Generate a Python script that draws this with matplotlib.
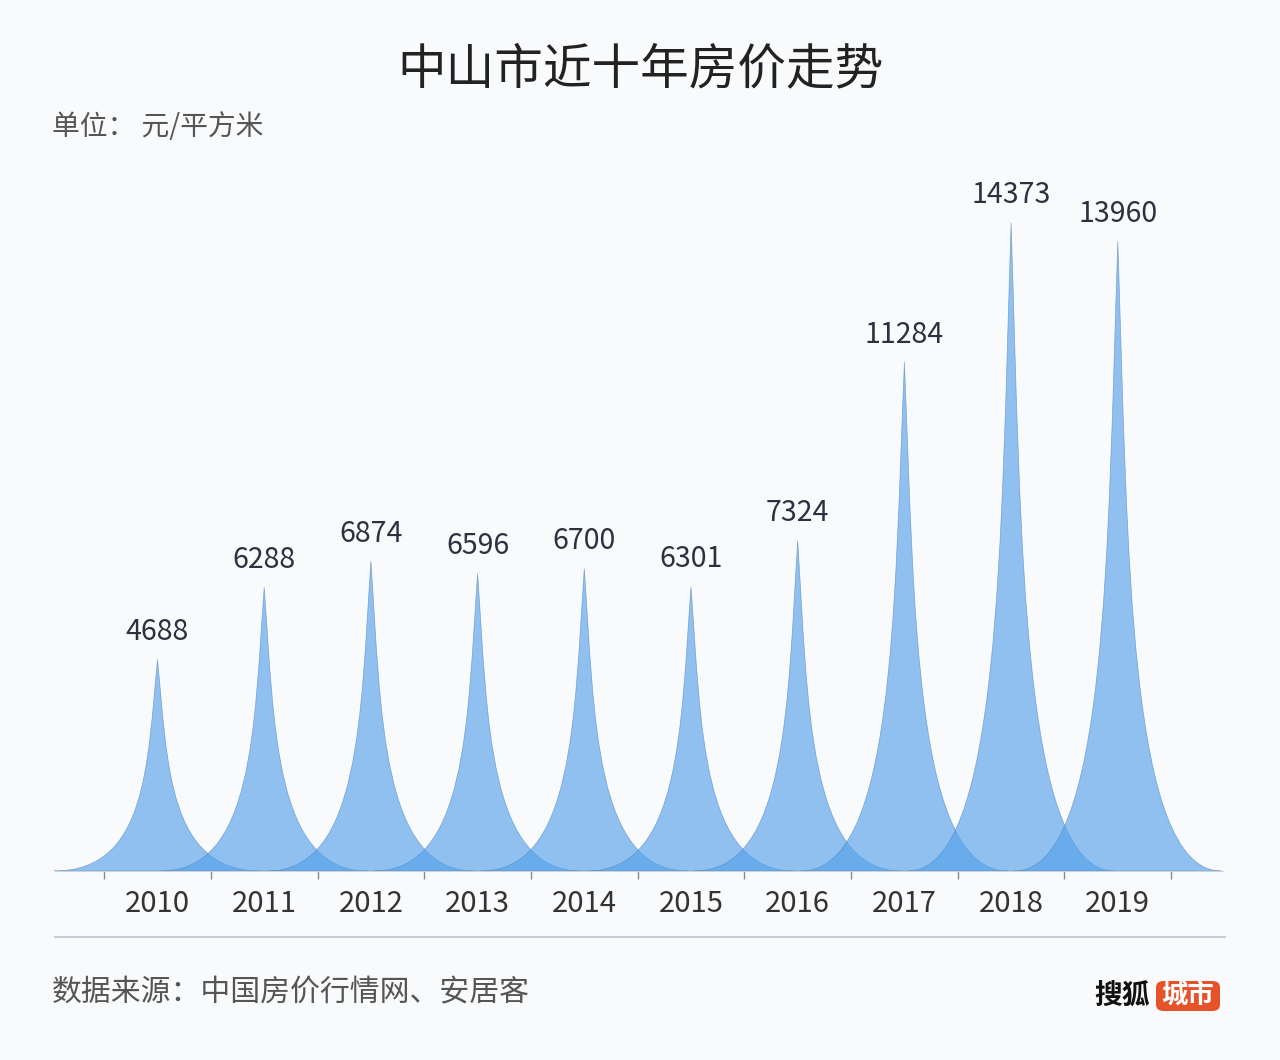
import numpy as np
import matplotlib.pyplot as plt
from matplotlib.path import Path
from matplotlib.patches import PathPatch, FancyBboxPatch

plt.rcParams['font.family'] = ['Noto Sans CJK SC', 'DejaVu Sans']

years = ['2010', '2011', '2012', '2013', '2014', '2015', '2016', '2017', '2018', '2019']
prices = [4688, 6288, 6874, 6596, 6700, 6301, 7324, 11284, 14373, 13960]

bg = '#f9fafc'
W, H = 1280, 1060
fig = plt.figure(figsize=(W / 100, H / 100), dpi=100, facecolor=bg)

# axes placed in pixels: baseline at y=871, category centres 157.5 + 106.7*i
band = 106.7
x0_px = 157.5
left_px, right_px = 40, 1240
base_px, top_px = 871, 160
px_per_unit = 0.0451

ax = fig.add_axes([left_px / W, (H - base_px) / H,
                   (right_px - left_px) / W, (base_px - top_px) / H])
ax.set_facecolor(bg)
ax.set_xlim((left_px - x0_px) / band, (right_px - x0_px) / band)
ax.set_ylim(0, (base_px - top_px) / px_per_unit)

half = 0.97
for i, v in enumerate(prices):
    verts = [(i - half, 0), (i + half, 0),
             (i + 0.1 * half, 0), (i + 0.1 * half, v / 2), (i, v),
             (i - 0.1 * half, v / 2), (i - 0.1 * half, 0), (i - half, 0),
             (i - half, 0)]
    codes = [Path.MOVETO, Path.LINETO,
             Path.CURVE4, Path.CURVE4, Path.CURVE4,
             Path.CURVE4, Path.CURVE4, Path.CURVE4,
             Path.CLOSEPOLY]
    ax.add_patch(PathPatch(Path(verts, codes), facecolor='#56a2e9', alpha=0.65,
                           edgecolor='#4f86c0', lw=0.5, zorder=2))
    ax.annotate(str(v), (i, v), xytext=(0, 14), textcoords='offset points',
                ha='center', va='baseline', fontsize=20.5, color='#2f2f3f')

for s in ['top', 'right', 'left']:
    ax.spines[s].set_visible(False)
ax.spines['bottom'].set_color('#cfd3d8')
ax.spines['bottom'].set_bounds(-0.96, 9.99)
ax.set_yticks([])
ax.set_xticks(np.arange(len(years) + 1) - 0.5)
ax.set_xticklabels([])
ax.tick_params(axis='x', which='major', length=6, color='#8a8a8a', width=1)
ax.set_xticks(np.arange(len(years)), minor=True)
ax.set_xticklabels(years, minor=True)
ax.tick_params(axis='x', which='minor', length=0, pad=13, labelsize=21,
               labelcolor='#333333')

fig.text(640 / W, 1 - 70 / H, '中山市近十年房价走势', ha='center', va='center',
         fontsize=35, color='#222222', fontweight='medium')
fig.text(52 / W, 1 - 127 / H, '单位： 元/平方米', ha='left', va='center',
         fontsize=20, color='#555555')

fig.add_artist(plt.Line2D([55 / W, 1225 / W], [1 - 937 / H, 1 - 937 / H],
                          color='#c8cdd4', lw=1.5))
fig.text(52 / W, 1 - 993 / H, '数据来源：中国房价行情网、安居客', ha='left',
         va='center', fontsize=21.5, color='#555555')

fig.text(1150 / W, 1 - 996 / H, '搜狐', ha='right', va='center', fontsize=20,
         color='#111111', fontweight='bold')
fig.add_artist(FancyBboxPatch((1156 / W, 1 - 1011 / H), 64 / W, 30 / H,
                              boxstyle='round,pad=0,rounding_size=0.006',
                              transform=fig.transFigure, facecolor='#e5532b',
                              edgecolor='none'))
fig.text(1188 / W, 1 - 996 / H, '城市', ha='center', va='center', fontsize=19,
         color='white', fontweight='bold')

fig.savefig('out.png', dpi=100, facecolor=bg)
